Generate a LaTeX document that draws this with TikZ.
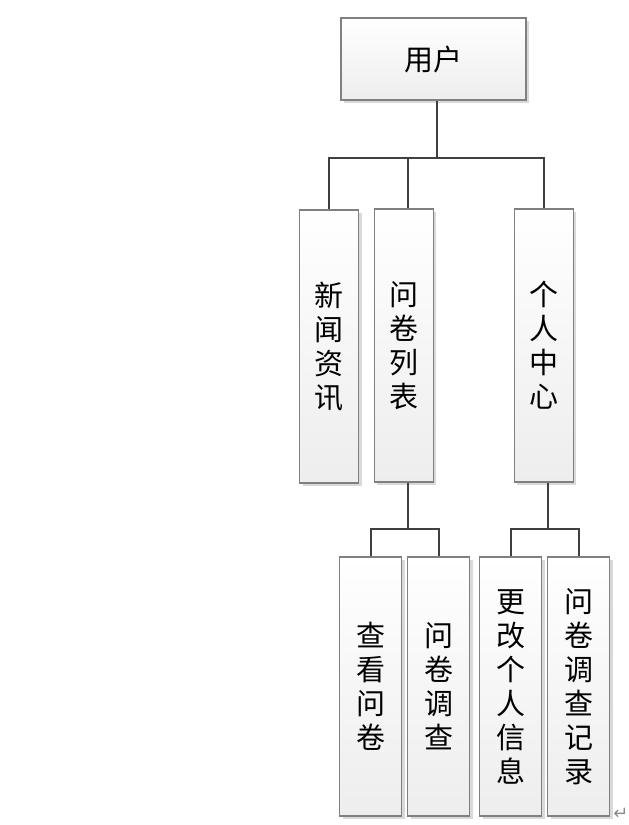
\documentclass[tikz,border=0pt]{standalone}
\usepackage{fontspec}
\newfontfamily\cjk{Noto Sans CJK SC}
\newfontfamily\symfont{DejaVu Sans}
\usetikzlibrary{calc,shadows,positioning}

\begin{document}
\begin{tikzpicture}[x=1pt,y=-1pt,
  box/.style={draw=black!50,line width=1.2pt,top color=white,bottom color=black!7,
    drop shadow={shadow xshift=3pt,shadow yshift=-3pt,fill=black!15,opacity=1},
    font=\cjk\fontsize{29}{34}\selectfont,align=center,inner sep=0pt},
  link/.style={draw=black!75,line width=2pt}]
  \useasboundingbox (0,0) rectangle (629,825);
  % top
  \node[box,minimum width=185pt,minimum height=82pt] (user) at (433.5,59) {用户};
  % second row
  \node[box,minimum width=59pt,minimum height=273pt] (news) at (329,346.5) {新\\闻\\资\\讯};
  \node[box,minimum width=59pt,minimum height=273pt] (list) at (403.7,345.5) {问\\卷\\列\\表};
  \node[box,minimum width=59pt,minimum height=273pt] (center) at (543.7,345.5) {个\\人\\中\\心};
  % third row
  \node[box,minimum width=62pt,minimum height=259pt] (view) at (370.8,686.5) {查\\看\\问\\卷};
  \node[box,minimum width=62pt,minimum height=259pt] (survey) at (438.8,686.5) {问\\卷\\调\\查};
  \node[box,minimum width=62pt,minimum height=259pt] (edit) at (510.8,686.5) {更\\改\\个\\人\\信\\息};
  \node[box,minimum width=62pt,minimum height=259pt] (record) at (578.8,686.5) {问\\卷\\调\\查\\记\\录};
  \node[text=black!45,font=\symfont\fontsize{18}{18}\selectfont,inner sep=0pt] (mark) at (621,814) {↵};

  % connectors
  \coordinate (bar1) at ($(user.south)+(3,57)$);
  \draw[link] ([xshift=3pt]user.south) -- (bar1);
  \draw[link] (news.north) |- (bar1) -| (center.north);
  \draw[link] ([xshift=4.5pt]list.north) -- ([xshift=4.5pt]list.north |- bar1);

  \coordinate (bar2) at ($(list.south)+(4.5,46)$);
  \draw[link] ([xshift=4.5pt]list.south) -- (bar2);
  \draw[link] (view.north) |- (bar2) -| (survey.north);

  \coordinate (bar3) at ($(center.south)+(4.5,46)$);
  \draw[link] ([xshift=4.5pt]center.south) -- (bar3);
  \draw[link] (edit.north) |- (bar3) -| (record.north);
\end{tikzpicture}
\end{document}
